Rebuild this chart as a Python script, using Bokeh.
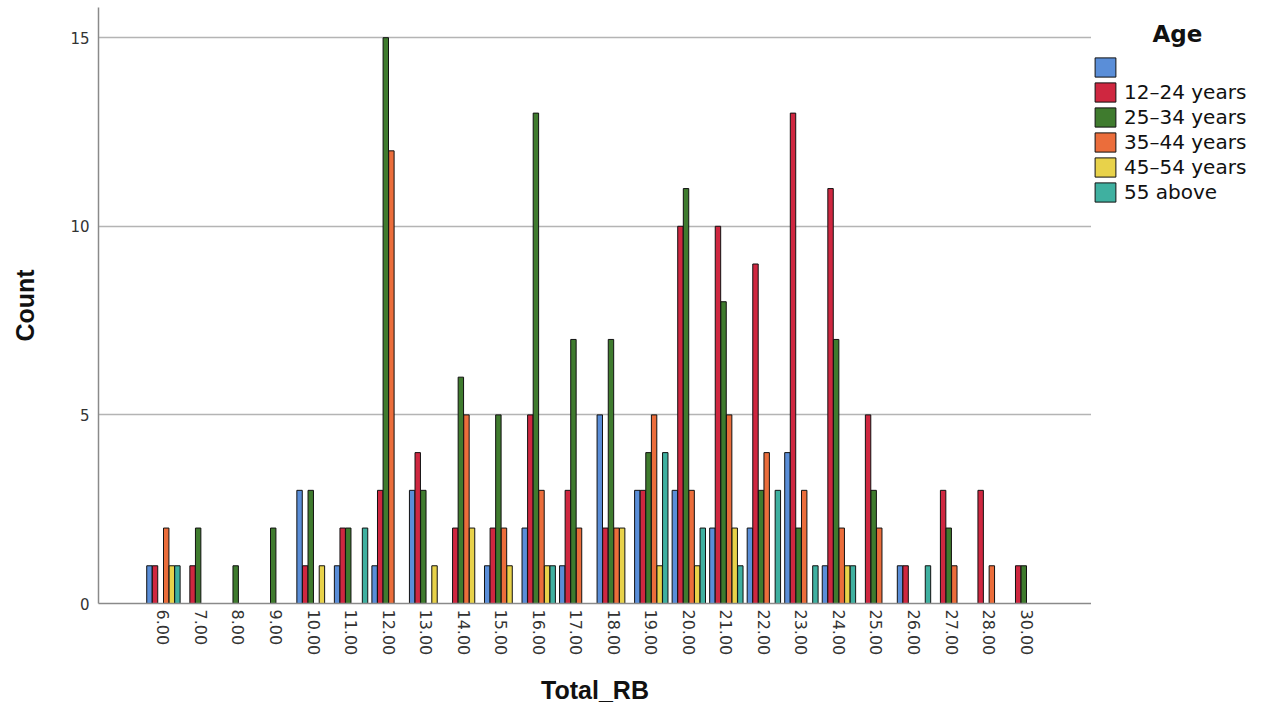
import math
from bokeh.plotting import figure
from bokeh.layouts import row
from bokeh.models import (ColumnDataSource, FactorRange, Range1d, Legend, LegendItem,
                          Label, FixedTicker)
from bokeh.transform import dodge
from bokeh.embed import file_html
from bokeh.resources import INLINE

# ---- data ----
categories = ["6.00", "7.00", "8.00", "9.00", "10.00", "11.00", "12.00", "13.00",
              "14.00", "15.00", "16.00", "17.00", "18.00", "19.00", "20.00", "21.00",
              "22.00", "23.00", "24.00", "25.00", "26.00", "27.00", "28.00", "30.00"]
age_labels = [" ", "12\u201324 years", "25\u201334 years", "35\u201344 years",
              "45\u201354 years", "55 above"]
age_blank = [1, 0, 0, 0, 3, 1, 1, 3, 0, 1, 2, 1, 5, 3, 3, 2, 2, 4, 1, 0, 1, 0, 0, 0]
age_12_24 = [1, 1, 0, 0, 1, 2, 3, 4, 2, 2, 5, 3, 2, 3, 10, 10, 9, 13, 11, 5, 1, 3, 3, 1]
age_25_34 = [0, 2, 1, 2, 3, 2, 15, 3, 6, 5, 13, 7, 7, 4, 11, 8, 3, 2, 7, 3, 0, 2, 0, 1]
age_35_44 = [2, 0, 0, 0, 0, 0, 12, 0, 5, 2, 3, 2, 2, 5, 3, 5, 4, 3, 2, 2, 0, 1, 1, 0]
age_45_54 = [1, 0, 0, 0, 1, 0, 0, 1, 2, 1, 1, 0, 2, 1, 1, 2, 0, 0, 1, 0, 0, 0, 0, 0]
age_55_up = [1, 0, 0, 0, 0, 2, 0, 0, 0, 0, 1, 0, 0, 4, 2, 1, 3, 1, 1, 0, 1, 0, 0, 0]
y_ticks = [0, 5, 10, 15]

series = [age_blank, age_12_24, age_25_34, age_35_44, age_45_54, age_55_up]
colors = ["#5A8ED8", "#CF2740", "#3F7B2E", "#EB6D3B", "#E8D24A", "#3FB0A0"]

# ---- layout ----
H = 707
W1, W2 = 1091, 160
ML, MT, MB = 98, 7, 104
frame_h = H - MT - MB

p = figure(width=W1, height=H, output_backend="svg", toolbar_location=None,
           x_range=FactorRange(factors=categories, range_padding=1.23,
                               range_padding_units="absolute"),
           y_range=Range1d(0, 15.8),
           min_border_left=ML, min_border_right=0, min_border_top=MT,
           min_border_bottom=MB)
p.outline_line_color = None
p.background_fill_color = "white"
p.border_fill_color = "white"

slot = 0.149
for i, (vals, col) in enumerate(zip(series, colors)):
    xs = [c for c, v in zip(categories, vals) if v > 0]
    ys = [v for v in vals if v > 0]
    src = ColumnDataSource(dict(x=xs, top=ys))
    p.vbar(x=dodge("x", (i - 2.5) * slot, range=p.x_range), top="top", bottom=0,
           width=slot * 0.97, source=src, fill_color=col, line_color="#111111",
           line_width=1)

# axes
p.xgrid.grid_line_color = None
p.ygrid.grid_line_color = "#b4b4b4"
p.ygrid.grid_line_width = 1.3
p.yaxis.ticker = FixedTicker(ticks=y_ticks)
for ax in (p.xaxis[0], p.yaxis[0]):
    ax.axis_line_color = "#8a8a8a"
    ax.axis_line_width = 1.5
    ax.major_tick_line_color = None
    ax.minor_tick_line_color = None
    ax.major_tick_out = 0
    ax.minor_tick_out = 0
    ax.major_tick_in = 0
    ax.minor_tick_in = 0
    ax.major_label_text_color = "#333333"
    ax.major_label_text_font = "DejaVu Sans"
    ax.axis_label_text_font = "Liberation Sans"
    ax.axis_label_text_font_style = "bold"
    ax.axis_label_text_font_size = "25px"
    ax.axis_label_text_color = "#111111"

p.xaxis.major_label_orientation = -math.pi / 2
p.xaxis.major_label_text_font_size = "16px"
p.xaxis.major_label_standoff = 6
p.xaxis.axis_label = "Total_RB"
p.xaxis.axis_label_standoff = 18
p.yaxis.major_label_text_font_size = "15px"
p.yaxis.major_label_standoff = 9
p.yaxis.axis_label = "Count"
p.yaxis.axis_label_standoff = 28

# ---- legend panel (to the right of the plot frame) ----
q = figure(width=W2, height=H, output_backend="svg", toolbar_location=None,
           x_range=Range1d(0, 1), y_range=Range1d(0, 1),
           x_axis_location=None, y_axis_location=None,
           min_border_left=0, min_border_right=0, min_border_top=MT,
           min_border_bottom=MB)
q.outline_line_color = None
q.xgrid.visible = False
q.ygrid.visible = False
q.border_fill_color = "white"

nan = float("nan")
items = []
for col, lab in zip(colors, age_labels):
    # legend swatch only: a NaN point draws nothing in the panel
    r = q.vbar(x=[nan], top=[nan], width=0.1, fill_color=col, line_color="#111111",
               line_width=1)
    items.append(LegendItem(label=lab, renderers=[r]))

glyph_h, gap = 24, 1
leg_h = 6 * glyph_h + 5 * gap
legend = Legend(items=items, location=(1, frame_h - 48 - leg_h),
                glyph_width=26, glyph_height=glyph_h, spacing=gap, label_standoff=6,
                label_text_font="DejaVu Sans", label_text_font_size="20px",
                label_text_color="#111111", label_height=glyph_h,
                padding=0, margin=0, border_line_color=None,
                background_fill_alpha=0)
q.add_layout(legend, "center")

title = Label(x=86, y=frame_h - 26, x_units="screen", y_units="screen",
              text="Age", text_font="DejaVu Sans", text_font_style="bold",
              text_font_size="23px", text_align="center", text_baseline="middle",
              text_color="#111111")
q.add_layout(title)

open("out.html", "w").write(file_html(row(p, q), INLINE))
